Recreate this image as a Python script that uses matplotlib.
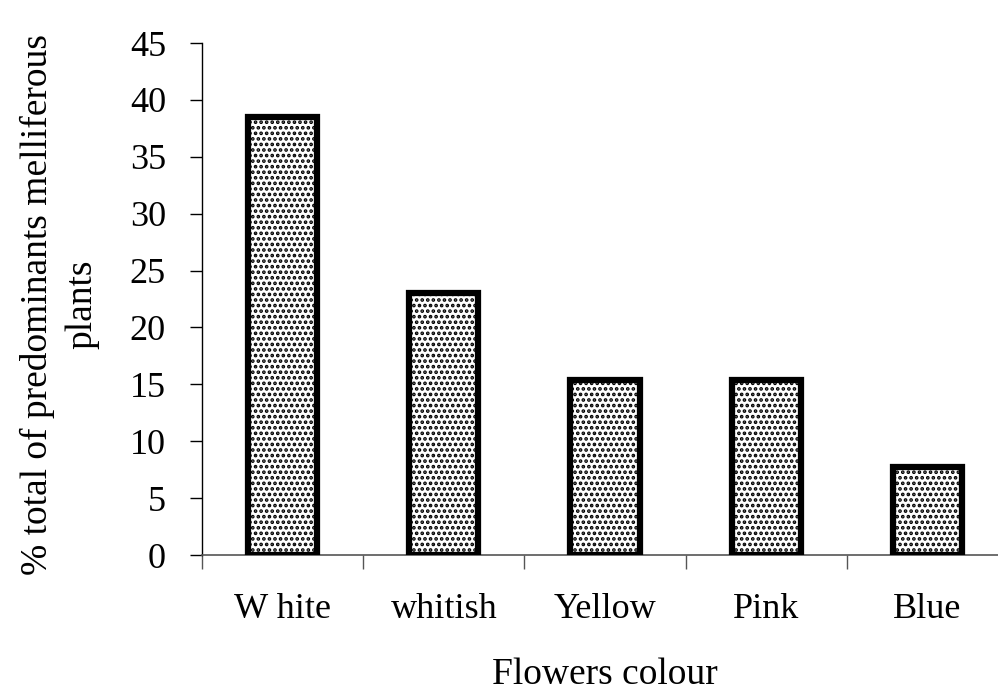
import numpy as np
import matplotlib.pyplot as plt

# colour of flowers vs share of melliferous plants
categories = ["W hite", "whitish", "Yellow", "Pink", "Blue"]
values = [38.5, 23.0, 15.4, 15.4, 7.7]
yticks = [0, 5, 10, 15, 20, 25, 30, 35, 40, 45]

plt.rcParams['font.family'] = ['Liberation Serif', 'DejaVu Serif']
plt.rcParams['hatch.linewidth'] = 1.8

fig = plt.figure(figsize=(9.98, 6.91), dpi=100)
# axes runs a bit past the right edge, like the original
ax = fig.add_axes([202 / 998, (691 - 555) / 691, 806 / 998, 512 / 691])

x = np.arange(len(categories))
ax.bar(x, values, width=0.43, color='white', edgecolor='black',
       linewidth=4.5, hatch='...', zorder=3)

ax.set_xlim(-0.5, len(categories) - 0.5)
ax.set_ylim(0, 45)
ax.set_yticks(yticks)
ax.set_yticklabels([str(t) for t in yticks], fontsize=26)

ax.set_xticks(x)
ax.set_xticklabels(categories, fontsize=26)
ax.set_xticks(np.arange(-0.5, len(categories)), minor=True)
ax.tick_params(axis='x', which='major', length=0, pad=27)
ax.tick_params(axis='x', which='minor', length=10, width=1, color='#555555')
ax.tick_params(axis='y', length=9, width=1, pad=17)

for s in ['top', 'right']:
    ax.spines[s].set_visible(False)
ax.spines['left'].set_linewidth(1)
ax.spines['bottom'].set_linewidth(1.2)
ax.spines['bottom'].set_color('#555555')

ax.set_xlabel("Flowers colour", fontsize=27)
ax.xaxis.set_label_coords(0.5, -0.2)
ax.set_ylabel("% total of predominants melliferous\nplants", fontsize=27,
              linespacing=1.4)
ax.yaxis.set_label_coords(-0.127, 0.49)

fig.savefig("out.png", dpi=100)
